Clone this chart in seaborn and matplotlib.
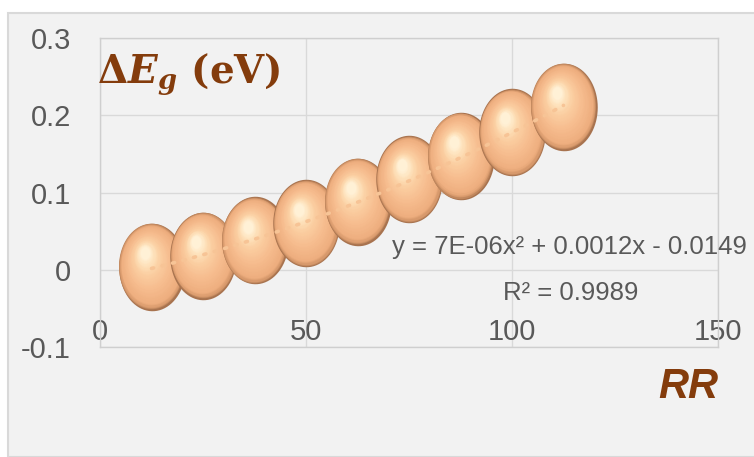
import numpy as np
import seaborn as sns
import matplotlib
matplotlib.use('Agg')
import matplotlib.pyplot as plt
import matplotlib.transforms as mtransforms
from matplotlib.path import Path
from matplotlib.patches import Rectangle
from matplotlib.colors import LinearSegmentedColormap

# data
rr = [12.5, 25, 37.5, 50, 62.5, 75, 87.5, 100, 112.5]
delta_eg = [0.004, 0.018, 0.038, 0.060, 0.088, 0.117, 0.147, 0.178, 0.211]
x_ticks = [0, 50, 100, 150]
y_ticks = [-0.1, 0, 0.1, 0.2, 0.3]
y_tick_labels = ['-0.1', '0', '0.1', '0.2', '0.3']
eq_text = 'y = 7E-06x² + 0.0012x - 0.0149'
r2_text = 'R² = 0.9989'

sns.set_theme(style='white')
plt.rcParams['font.family'] = ['Liberation Sans', 'DejaVu Sans']
plt.rcParams['mathtext.fontset'] = 'dejavuserif'

grey_txt = '#595959'
brown = '#843c0c'

fig = plt.figure(figsize=(7.54, 4.57), dpi=100, facecolor='white')
fig.patches.append(Rectangle((8 / 754, 0), 1, (457 - 13) / 457, transform=fig.transFigure,
                             facecolor='#f2f2f2', edgecolor='#d9d9d9', lw=1.5, zorder=-10))
ax = fig.add_axes([100 / 754, 110 / 457, 618 / 754, 309 / 457])
ax.set_facecolor('#f2f2f2')

# trendline (2nd order poly fit, dotted like Excel)
sns.regplot(x=rr, y=delta_eg, order=2, ci=None, scatter=False, ax=ax,
            line_kws=dict(color='#f7c496', lw=2.6, ls=(0, (0.6, 2.4)),
                          dash_capstyle='round', zorder=5))

# 3D-looking "spheres": stacked ellipses, shifted towards the highlight
theta = np.linspace(0, 2 * np.pi, 80)
egg = Path(np.column_stack([0.76 * np.cos(theta), np.sin(theta)]))
ramp = LinearSegmentedColormap.from_list(
    'sphere', [(0, '#a8734f'), (0.04, '#d39669'), (0.12, '#eeae7f'),
               (0.4, '#f6bc8e'), (0.7, '#fbcfa2'), (0.88, '#fee3bd'), (1, '#fff1d6')])
n_layers = 40
for x, y in zip(rr, delta_eg):
    for k in range(n_layers):
        t = k / (n_layers - 1)
        size = 63 * (1 - 0.86 * t)
        tr = mtransforms.offset_copy(ax.transData, fig=fig, x=-5 * t, y=10 * t, units='points')
        ax.scatter([x], [y], s=size ** 2, marker=egg, color=ramp(t), linewidths=0,
                   transform=tr, zorder=3)

ax.set_xlim(0, 150)
ax.set_ylim(-0.1, 0.3)
ax.set_xticks(x_ticks)
ax.set_yticks(y_ticks)
ax.set_yticklabels(y_tick_labels)
ax.grid(True, color='#d9d9d9', lw=1)
ax.set_axisbelow(True)
for s in ax.spines.values():
    s.set_color('#cfcfcf')
    s.set_linewidth(1)
ax.tick_params(length=0, labelsize=21, labelcolor=grey_txt)
ax.tick_params(axis='y', pad=21)
ax.tick_params(axis='x', pad=-21)

ax.text(0.4725, 0.3236, eq_text, transform=ax.transAxes, ha='left', va='center',
        fontsize=18.5, color=grey_txt, zorder=10)
ax.text(0.652, 0.1748, r2_text, transform=ax.transAxes, ha='left', va='center',
        fontsize=18.5, color=grey_txt, zorder=10)

fig.text(97 / 754, (457 - 83) / 457, r'$\mathbf{\Delta}\mathbfit{E}_{\mathbfit{g}}$ (eV)',
         family='DejaVu Serif', fontweight='bold', fontsize=28, color=brown, va='baseline')
fig.text(718 / 754, (457 - 398) / 457, 'RR', fontsize=30, fontweight='bold', style='italic',
         color=brown, ha='right', va='baseline')

fig.savefig('out.png', dpi=100, facecolor=fig.get_facecolor())
